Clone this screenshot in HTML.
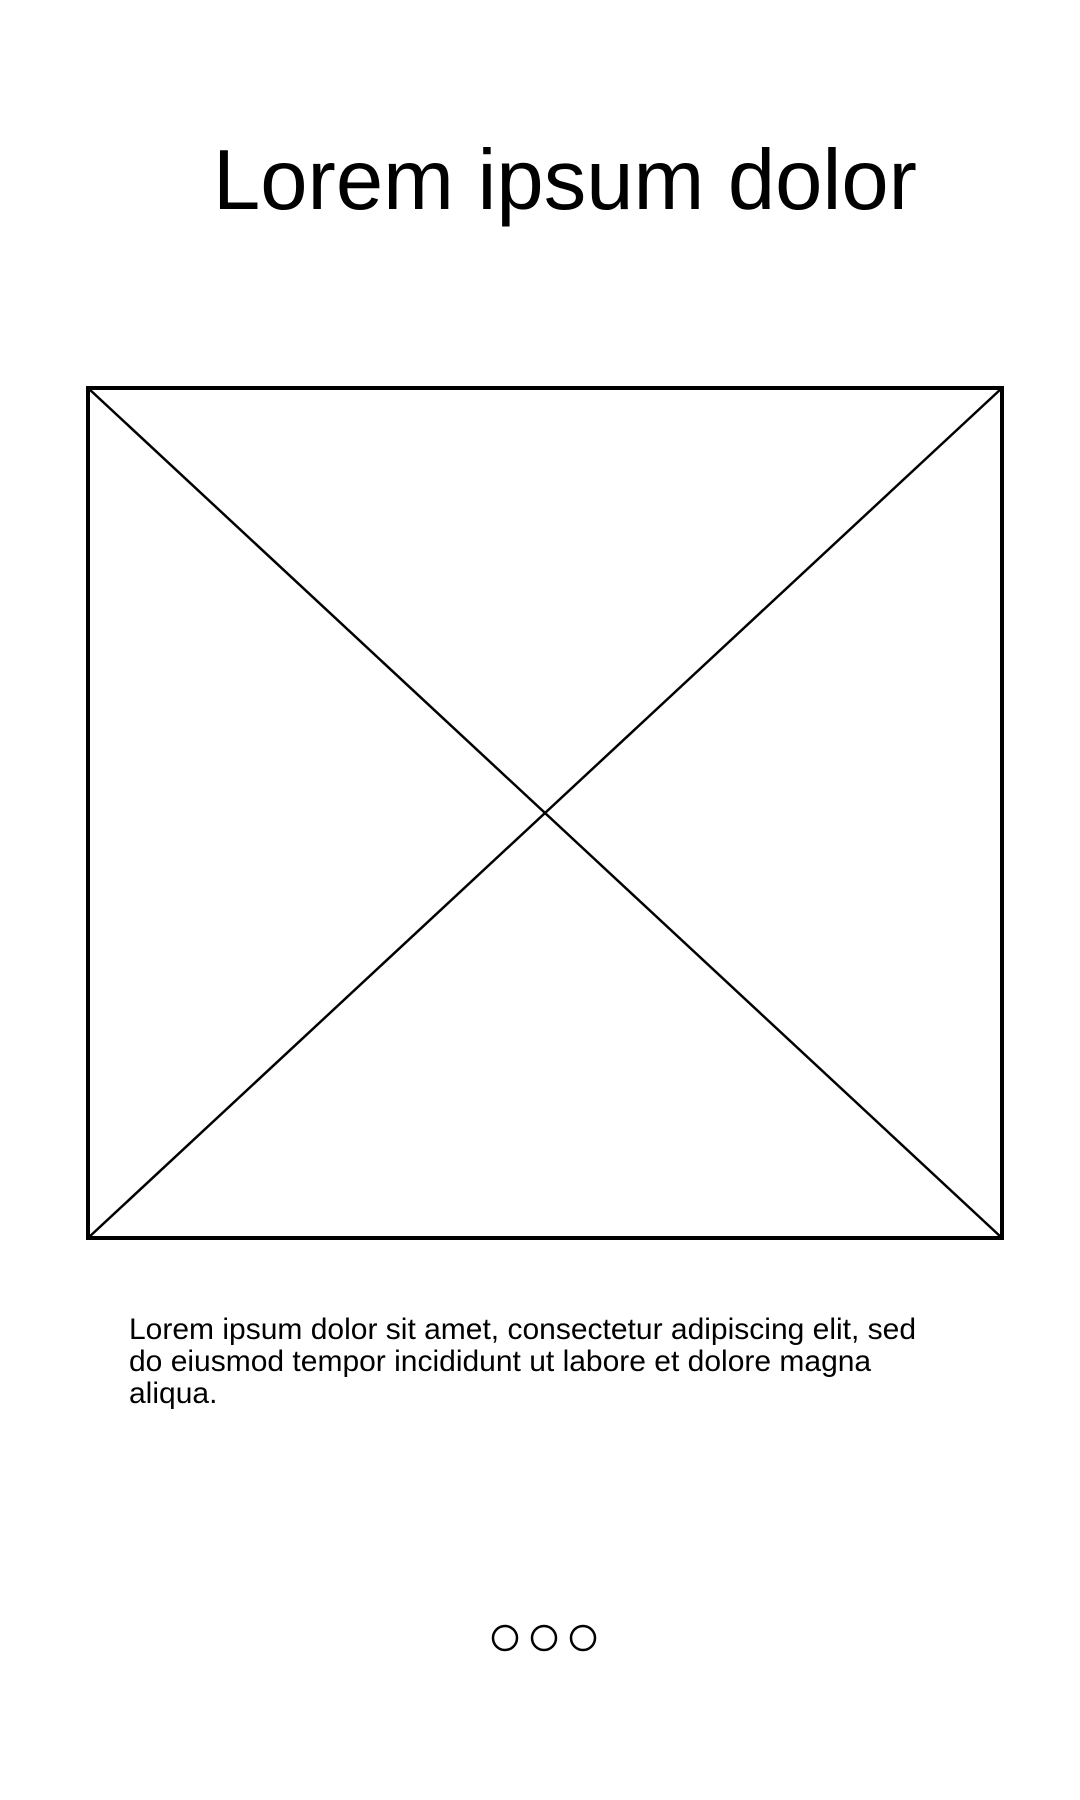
<!DOCTYPE html>
<html><head><meta charset="utf-8"><style>
html,body{margin:0;padding:0;background:#fff;width:1080px;height:1800px;overflow:hidden;position:relative;font-family:"Liberation Sans",Arial,sans-serif;color:#000}
#title{position:absolute;left:213px;top:131px;font-size:85px;line-height:100px;white-space:nowrap;margin:0;font-weight:normal}
#para{position:absolute;left:129px;top:1314px;font-size:30px;line-height:32px;margin:0}
.l{display:block;white-space:nowrap}
svg{position:absolute;left:0;top:0}
</style></head><body>
<h1 id="title">Lorem ipsum dolor</h1>
<svg width="1080" height="1800">
<rect x="88" y="388" width="914" height="850" fill="none" stroke="#000" stroke-width="4"/>
<line x1="88" y1="388" x2="1002" y2="1238" stroke="#000" stroke-width="2.5"/>
<line x1="1002" y1="388" x2="88" y2="1238" stroke="#000" stroke-width="2.5"/>
<circle cx="505" cy="1638" r="12" fill="none" stroke="#000" stroke-width="2.5"/>
<circle cx="544" cy="1638" r="12" fill="none" stroke="#000" stroke-width="2.5"/>
<circle cx="583" cy="1638" r="12" fill="none" stroke="#000" stroke-width="2.5"/>
</svg>
<p id="para"><span class="l">Lorem ipsum dolor sit amet, consectetur adipiscing elit, sed</span><span class="l">do eiusmod tempor incididunt ut labore et dolore magna</span><span class="l">aliqua.</span></p>
</body></html>
